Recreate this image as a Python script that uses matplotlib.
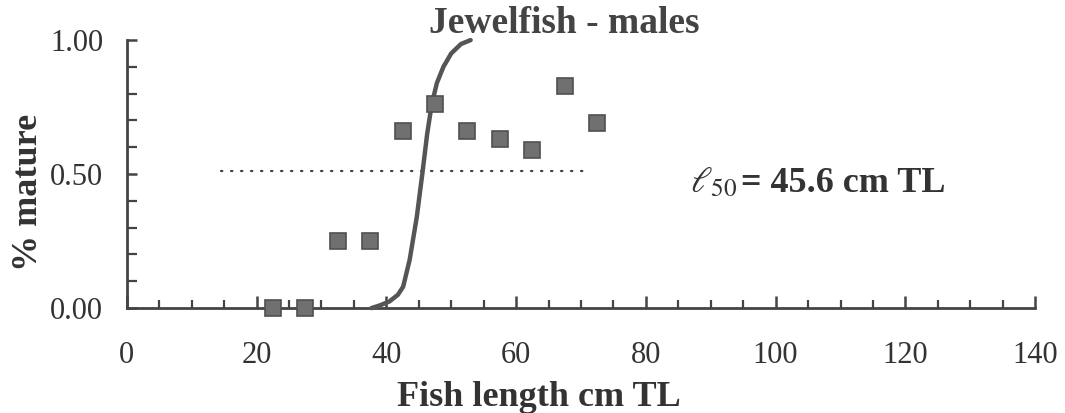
import numpy as np
import matplotlib
matplotlib.use('Agg')
import matplotlib.pyplot as plt
from matplotlib.ticker import MultipleLocator, FormatStrFormatter

plt.rcParams['font.family'] = 'Liberation Serif'
plt.rcParams['mathtext.fontset'] = 'stix'

# observed proportion mature by 5 cm length class
length_mid = [22.5, 27.5, 32.5, 37.5, 42.5, 47.5, 52.5, 57.5, 62.5, 67.5, 72.5]
prop_mature = [0.0, 0.0, 0.25, 0.25, 0.66, 0.76, 0.66, 0.63, 0.59, 0.83, 0.69]

# fitted maturity curve
curve_len = [37.7, 39.0, 40.5, 41.8, 42.6, 43.6, 44.7, 45.6, 46.3, 47.0, 47.8, 48.8, 50.0, 51.5, 53.0]
curve_prop = [0.0, 0.01, 0.025, 0.05, 0.08, 0.18, 0.34, 0.51, 0.65, 0.76, 0.84, 0.90, 0.95, 0.985, 1.0]

# l50 reference line
ref_x = [14.6, 71.0]
ref_y = [0.51, 0.51]

ink = '#444444'
txt = '#333333'

fig = plt.figure(figsize=(10.65, 4.13), dpi=100)
ax = fig.add_axes([0.119, 0.254, 0.853, 0.649])

ax.plot(ref_x, ref_y, color=ink, linestyle=(0, (0.6, 3.9)), linewidth=1.6,
        dash_capstyle='round')
ax.plot(curve_len, curve_prop, color='#555555', linewidth=3.2,
        solid_capstyle='round', zorder=3, clip_on=False)
ax.plot(length_mid, prop_mature, linestyle='none', marker='s', markersize=11,
        markerfacecolor='#707070', markeredgecolor='#505050', markeredgewidth=1.2,
        zorder=4, clip_on=False)

ax.set_xlim(0, 140)
ax.set_ylim(0, 1.0)
ax.xaxis.set_major_locator(MultipleLocator(20))
ax.xaxis.set_minor_locator(MultipleLocator(5))
ax.yaxis.set_major_locator(MultipleLocator(0.5))
ax.yaxis.set_minor_locator(MultipleLocator(0.1))
ax.yaxis.set_major_formatter(FormatStrFormatter('%.2f'))

for s in ['top', 'right']:
    ax.spines[s].set_visible(False)
for s in ['left', 'bottom']:
    ax.spines[s].set_color(ink)
    ax.spines[s].set_linewidth(2)

ax.tick_params(axis='x', which='major', direction='in', length=9, width=1.8,
               color=ink, labelsize=22, labelcolor=txt, pad=24)
ax.tick_params(axis='x', which='minor', direction='in', length=6, width=1.6, color=ink)
ax.tick_params(axis='y', which='major', direction='in', length=7, width=1.8,
               color=ink, labelsize=22, labelcolor=txt, pad=17)
ax.tick_params(axis='y', which='minor', direction='in', length=7, width=1.6, color=ink)

fig.text(0.506, 0.016, 'Fish length cm TL', ha='center', va='baseline',
         fontsize=26, fontweight='bold', color=txt)
fig.text(0.027, 0.535, '% mature', ha='center', va='center', rotation=90,
         fontsize=26, fontweight='bold', color=txt)

ax.text(0.482, 1.026, 'Jewelfish - males', transform=ax.transAxes, ha='center',
        va='baseline', fontsize=27, fontweight='bold', color='#444444')
ax.text(0.62, 0.433, r'$\ell_{50}$', transform=ax.transAxes, ha='left', va='baseline',
        fontsize=26, color=txt)
ax.text(0.676, 0.433, '= 45.6 cm TL', transform=ax.transAxes, ha='left', va='baseline',
        fontsize=26, fontweight='bold', color=txt)

fig.savefig('out.png', dpi=100)
